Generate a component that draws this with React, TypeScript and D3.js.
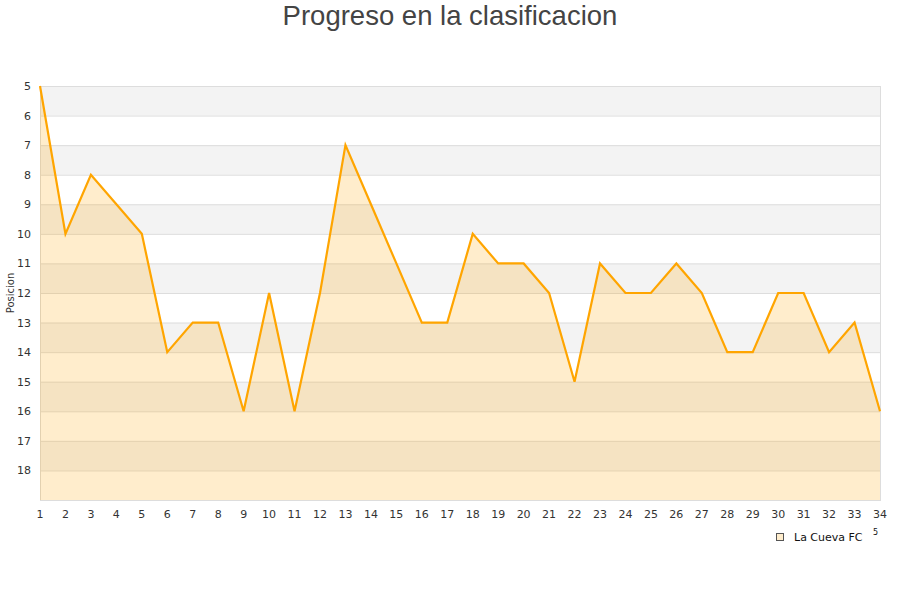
import * as d3 from "d3";
import { useRef, useEffect } from "react";

const jornadas = d3.range(1, 35);
const posiciones = [5, 10, 8, 9, 10, 14, 13, 13, 16, 12, 16, 12, 7, 9, 11, 13, 13, 10, 11, 11, 12, 15, 11, 12, 12, 11, 12, 14, 14, 12, 12, 14, 13, 16];
const yTicks = d3.range(5, 19);
const equipo = "La Cueva FC";

export default function App() {
  const svgRef = useRef(null);
  const width = 900;
  const height = 600;
  const marginTop = 86;
  const marginRight = 20;
  const marginBottom = 100;
  const marginLeft = 40;

  useEffect(() => {
    const svg = d3.select(svgRef.current);
    svg.selectAll("*").remove();

    const x = d3.scaleLinear()
      .domain([1, 34])
      .range([marginLeft, width - marginRight]);

    const y = d3.scaleLinear()
      .domain([5, 19])
      .range([marginTop, height - marginBottom]);

    // title
    svg.append("text")
      .attr("x", width / 2)
      .attr("y", 25)
      .attr("text-anchor", "middle")
      .attr("font-family", "Liberation Sans, Arial, sans-serif")
      .attr("font-size", 27.5)
      .attr("fill", "#444")
      .text("Progreso en la clasificacion");

    // alternating bands
    svg.append("g")
      .selectAll()
      .data(d3.range(5, 19).filter(d => d % 2 === 1))
      .join("rect")
        .attr("x", marginLeft)
        .attr("width", width - marginRight - marginLeft)
        .attr("y", d => y(d))
        .attr("height", d => y(d + 1) - y(d))
        .attr("fill", "#f3f3f3");

    // grid lines
    svg.append("g")
      .selectAll()
      .data(yTicks)
      .join("line")
        .attr("x1", marginLeft)
        .attr("x2", width - marginRight)
        .attr("y1", d => y(d) + 0.5)
        .attr("y2", d => y(d) + 0.5)
        .attr("stroke", "#ddd");

    // border
    svg.append("rect")
      .attr("x", marginLeft + 0.5)
      .attr("y", marginTop + 0.5)
      .attr("width", width - marginRight - marginLeft)
      .attr("height", height - marginBottom - marginTop)
      .attr("fill", "none")
      .attr("stroke", "#ddd");

    const data = jornadas.map((j, i) => ({ j, p: posiciones[i] }));

    svg.append("path")
      .datum(data)
      .attr("fill", "rgba(255,165,0,0.2)")
      .attr("d", d3.area()
        .x(d => x(d.j))
        .y0(y(19))
        .y1(d => y(d.p)));

    svg.append("path")
      .datum(data)
      .attr("fill", "none")
      .attr("stroke", "orange")
      .attr("stroke-width", 2.2)
      .attr("stroke-linejoin", "miter")
      .attr("d", d3.line()
        .x(d => x(d.j))
        .y(d => y(d.p)));

    // y axis labels
    svg.append("g")
      .attr("font-family", "DejaVu Sans, sans-serif")
      .attr("font-size", 11)
      .attr("fill", "#333")
      .selectAll()
      .data(yTicks)
      .join("text")
        .attr("x", marginLeft - 9)
        .attr("y", d => y(d) + 4)
        .attr("text-anchor", "end")
        .text(d => d);

    // x axis labels
    svg.append("g")
      .attr("font-family", "DejaVu Sans, sans-serif")
      .attr("font-size", 11)
      .attr("fill", "#333")
      .selectAll()
      .data(jornadas)
      .join("text")
        .attr("x", d => x(d))
        .attr("y", height - marginBottom + 18)
        .attr("text-anchor", "middle")
        .text(d => d);

    svg.append("text")
      .attr("transform", `translate(14,${(marginTop + height - marginBottom) / 2}) rotate(-90)`)
      .attr("text-anchor", "middle")
      .attr("font-family", "DejaVu Sans, sans-serif")
      .attr("font-size", 10)
      .attr("fill", "#333")
      .text("Posicion");

    // legend
    const legend = svg.append("g").attr("transform", "translate(776,533)");
    legend.append("rect")
      .attr("x", 0.5)
      .attr("y", 0.5)
      .attr("width", 7)
      .attr("height", 7)
      .attr("fill", "#ffedcc")
      .attr("stroke", "#555");
    legend.append("text")
      .attr("x", 18)
      .attr("y", 8)
      .attr("font-family", "DejaVu Sans, sans-serif")
      .attr("font-size", 11)
      .attr("fill", "#111")
      .text(equipo);
    legend.append("text")
      .attr("x", 97)
      .attr("y", 2)
      .attr("font-family", "DejaVu Sans, sans-serif")
      .attr("font-size", 8)
      .attr("fill", "#111")
      .text("5");
  }, []);

  return (
    <svg ref={svgRef} width={width} height={height}
      style={{ position: "absolute", left: 0, top: 0 }} />
  );
}
